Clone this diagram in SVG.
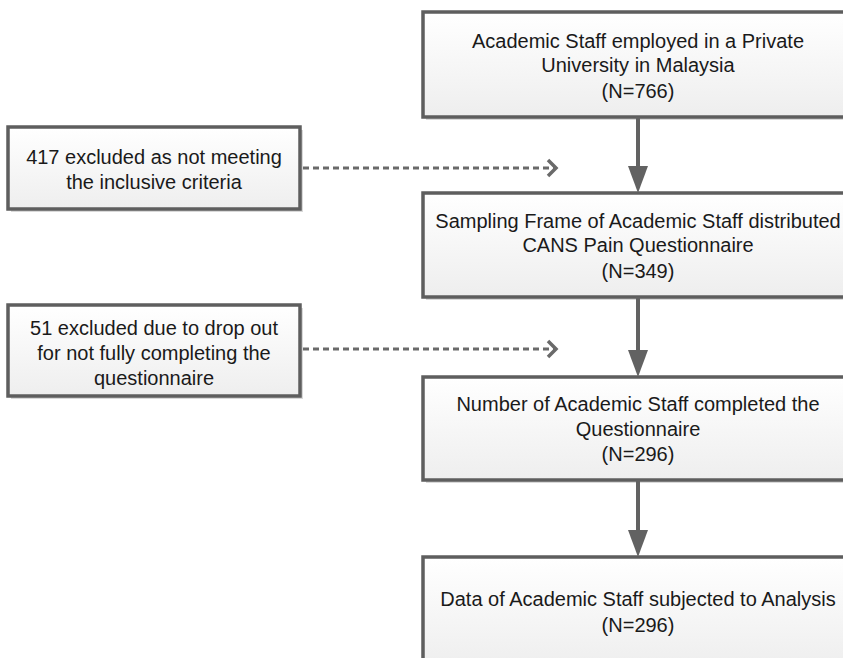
<svg xmlns="http://www.w3.org/2000/svg" width="843" height="658" viewBox="0 0 843 658">
<style>
.box{fill:url(#g);stroke:#5e5e5e;stroke-width:3.5}
.sh{fill:#d9d9d9}
text{font-family:"Liberation Sans",Arial,sans-serif;font-size:20px;fill:#1a1a1a;text-anchor:middle}
.solid{stroke:#626262;stroke-width:4;fill:none}
.dash{stroke:#6a6a6a;stroke-width:3;stroke-dasharray:6,4;fill:none}
.chev{stroke:#6a6a6a;stroke-width:3.5;fill:none}
.head{fill:#626262}
</style>
<defs>
<linearGradient id="g" x1="0" y1="0" x2="0" y2="1">
<stop offset="0" stop-color="#ffffff"/>
<stop offset="1" stop-color="#eeeeee"/>
</linearGradient>
</defs>
<rect width="843" height="658" fill="#ffffff"/>
<g id="n1">
<rect class="sh" x="426" y="15" width="430" height="105"/>
<rect class="box" x="423" y="12" width="430" height="105"/>
<text x="638" y="48">Academic Staff employed in a Private</text>
<text x="638" y="72">University in Malaysia</text>
<text x="638" y="98">(N=766)</text>
</g>
<g id="n2">
<rect class="sh" x="426" y="196" width="430" height="104"/>
<rect class="box" x="423" y="193" width="430" height="104"/>
<text x="638" y="228">Sampling Frame of Academic Staff distributed</text>
<text x="638" y="252">CANS Pain Questionnaire</text>
<text x="638" y="278">(N=349)</text>
</g>
<g id="n3">
<rect class="sh" x="426" y="380" width="430" height="103"/>
<rect class="box" x="423" y="377" width="430" height="103"/>
<text x="638" y="411">Number of Academic Staff completed the</text>
<text x="638" y="436">Questionnaire</text>
<text x="638" y="461">(N=296)</text>
</g>
<g id="n4">
<rect class="sh" x="426" y="560" width="430" height="110"/>
<rect class="box" x="423" y="557" width="430" height="110"/>
<text x="638" y="606">Data of Academic Staff subjected to Analysis</text>
<text x="638" y="632">(N=296)</text>
</g>
<g id="exA">
<rect class="sh" x="11" y="130" width="292" height="82"/>
<rect class="box" x="8" y="127" width="292" height="82"/>
<text x="154" y="164">417 excluded as not meeting</text>
<text x="154" y="189">the inclusive criteria</text>
</g>
<g id="exB">
<rect class="sh" x="11" y="308" width="292" height="91"/>
<rect class="box" x="8" y="305" width="292" height="91"/>
<text x="154" y="335">51 excluded due to drop out</text>
<text x="154" y="360">for not fully completing the</text>
<text x="154" y="385">questionnaire</text>
</g>
<g id="connectors">
<line class="solid" x1="638" y1="117" x2="638" y2="168"/>
<polygon class="head" points="628,166 648,166 638,193"/>
<line class="solid" x1="638" y1="297" x2="638" y2="352"/>
<polygon class="head" points="628,350 648,350 638,377"/>
<line class="solid" x1="638" y1="480" x2="638" y2="532"/>
<polygon class="head" points="628,530 648,530 638,557"/>
<line class="dash" x1="303" y1="168" x2="554" y2="168"/>
<polyline class="chev" points="548,160 556,168 548,176"/>
<line class="dash" x1="303" y1="349" x2="554" y2="349"/>
<polyline class="chev" points="548,341 556,349 548,357"/>
</g>
</svg>
